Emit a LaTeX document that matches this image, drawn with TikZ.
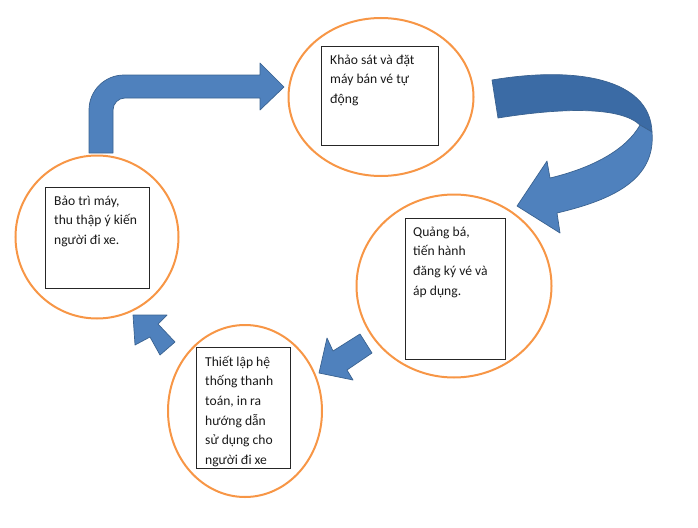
\documentclass[tikz,border=0pt]{standalone}
\usepackage{fontspec}
\setmainfont{Carlito}
\usetikzlibrary{shapes.geometric}
\definecolor{orng}{HTML}{F79646}
\definecolor{afill}{HTML}{4F81BD}
\definecolor{adark}{HTML}{3B6BA5}
\definecolor{aedge}{HTML}{3A6290}
\tikzset{
  ring/.style={draw=orng, line width=2pt, ellipse, inner sep=0pt},
  tbox/.style={draw=black!85, line width=0.8pt, rectangle, inner sep=0pt, anchor=north west},
  txt/.style={inner sep=0pt, anchor=north west, align=left,
    font=\fontsize{13.6}{19.6}\selectfont, text=black!90},
  blk/.style={fill=afill, draw=aedge, line width=0.7pt, line join=round},
  blkdark/.style={fill=adark, draw=aedge, line width=0.7pt, line join=round}
}
\newcommand{\stt}{\rule{0pt}{14pt}}
\begin{document}
\begin{tikzpicture}[x=1pt,y=-1pt]
\useasboundingbox (0,0) rectangle (698,527);
% ellipses
\node[ring, minimum width=185, minimum height=158] (e1) at (381,97) {};
\node[ring, minimum width=195, minimum height=183] (e2) at (454,286) {};
\node[ring, minimum width=154, minimum height=172] (e3) at (245,411) {};
\node[ring, minimum width=163, minimum height=163] (e4) at (97,237) {};
% boxes
\node[tbox, minimum width=117, minimum height=99] (b1) at (321,46) {};
\node[tbox, minimum width=100, minimum height=141] (b2) at (405,218) {};
\node[tbox, minimum width=94, minimum height=121] (b3) at (196,347) {};
\node[tbox, minimum width=104, minimum height=101] (b4) at (45,187) {};
% texts
\node[txt] (t1) at (330,50) {\stt Khảo sát và đặt\\máy bán vé tự\\động};
\node[txt] (t2) at (413,222) {\stt Quảng bá,\\tiến hành\\đăng ký vé và\\áp dụng.};
\node[txt] (t3) at (205,352) {\stt Thiết lập hệ\\thống thanh\\toán, in ra\\hướng dẫn\\sử dụng cho\\người đi xe};
\node[txt] (t4) at (54,191) {\stt Bảo trì máy,\\thu thập ý kiến\\người đi xe.};
% bent arrow (left -> top)
\draw[blk] (89,153) -- (89,110) arc[start angle=180, end angle=270, radius=35] -- (260,75)
  -- (260,63) -- (284,87) -- (260,110) -- (260,98) -- (125,98)
  arc[start angle=270, end angle=180, radius=12] -- (113,153) -- cycle;
% curved arrow (top -> right)
\draw[blkdark] (492,80) .. controls (575,66) and (650,78) .. (652,132)
  -- (640,125) .. controls (620,106) and (560,108) .. (498,118) -- cycle;
\draw[blk] (652,132) .. controls (656,180) and (612,200) .. (557,213)
  -- (560,233) -- (517,206) -- (547,161) -- (550,178)
  .. controls (592,168) and (626,150) .. (640,125) -- cycle;
% arrow right -> bottom
\draw[blk] (372,353) -- (360,334) -- (333,351) -- (327,338) -- (319,373)
  -- (353,380) -- (347,370) -- cycle;
% arrow bottom -> left
\draw[blk] (160,355) -- (175,342) -- (158,324) -- (167,315) -- (133,315)
  -- (135,345) -- (150,337) -- cycle;
\end{tikzpicture}
\end{document}
